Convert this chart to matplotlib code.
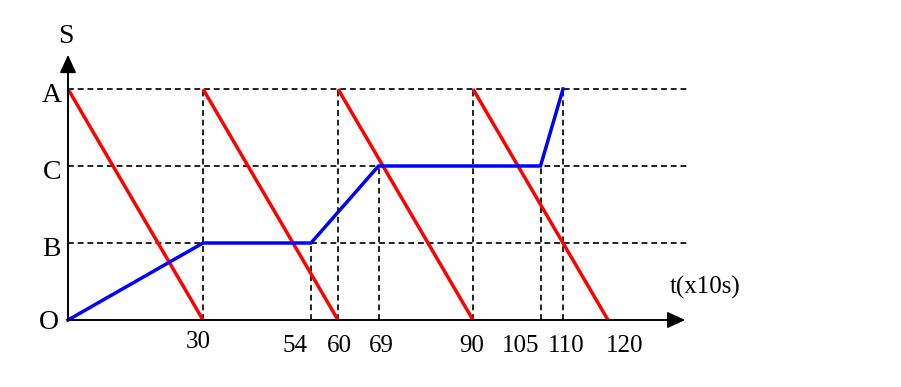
import matplotlib
matplotlib.use("Agg")
import matplotlib.pyplot as plt
from matplotlib.transforms import Bbox

# Data
levels = {"O": 0, "B": 1, "C": 2, "A": 3}
red_segments = [((0, 30), (3, 0)), ((30, 60), (3, 0)), ((60, 90), (3, 0)), ((90, 120), (3, 0))]
blue_t = [0, 30, 54, 69, 105, 110]
blue_s = [0, 1, 1, 2, 2, 3]
tick_values = [30, 54, 60, 69, 90, 105, 110, 120]
tick_labels = ["30", "54", "60", "69", "90", "105", "110", "120"]
# vertical dashed guides: (t, top level)
guides = [(30, 3), (54, 1), (60, 3), (69, 2), (90, 3), (105, 2), (110, 3)]

# layout
label_dx = {30: -1.1, 54: -3.6, 60: 0.4, 69: 0.7, 90: -0.2, 105: -4.4, 110: 0.7, 120: 3.8}
label_y = {30: -0.29}
x_end = 137.8
y_end = 3.48

plt.rcParams['font.family'] = ['Liberation Serif', 'DejaVu Serif']
fig = plt.figure(figsize=(9.01, 3.87), dpi=100)
ax = fig.add_axes([0, 0, 1, 1])
ax.set_xlim(-68 / 4.5, (901 - 68) / 4.5)
ax.set_ylim(-67 / 77, 320 / 77)
ax.axis("off")

dash = dict(color="#222222", lw=1.4, linestyle=(0, (3.0, 2.0)), zorder=1)
for name in ["B", "C", "A"]:
    ax.plot([0, x_end - 0.3], [levels[name]] * 2, **dash)
for t, top in guides:
    ax.plot([t, t], [0, top], **dash)

for xs, ys in red_segments:
    ax.plot(xs, ys, color="#ff0000", lw=2.5, zorder=3, solid_capstyle="butt")
ax.plot(blue_t, blue_s, color="#0000ff", lw=2.5, zorder=4, solid_joinstyle="miter")

# axes with arrows
ax.plot([0, x_end - 3], [0, 0], color="black", lw=1.4, zorder=5)
ax.plot([0, 0], [0, y_end - 0.2], color="black", lw=1.4, zorder=5)
ax.annotate("", xy=(x_end, 0), xytext=(x_end - 4, 0),
            arrowprops=dict(arrowstyle="-|>,head_length=1.1,head_width=0.5", color="black", lw=1.3), zorder=6)
ax.annotate("", xy=(0, y_end), xytext=(0, y_end - 0.25),
            arrowprops=dict(arrowstyle="-|>,head_length=1.1,head_width=0.5", color="black", lw=1.3), zorder=6)

fs_num = 18
fs_let = 20
clip = Bbox.from_extents(0, 387 - 352, 901, 387)
for v, lab in zip(tick_values, tick_labels):
    t = ax.text(v + label_dx[v], label_y.get(v, -0.335), lab, ha="center", va="center", fontsize=fs_num)
    t.set_clip_box(clip)
    t.set_clip_on(True)

for name in ["A", "C", "B"]:
    ax.text(-3.6, levels[name] - 0.08, name, ha="center", va="center", fontsize=fs_let)
ax.text(-4.3, -0.03, "O", ha="center", va="center", fontsize=fs_let)
ax.text(-0.4, 3.68, "S", ha="center", va="center", fontsize=fs_let)
ax.text(141.5, 0.42, "t(x10s)", ha="center", va="center", fontsize=fs_num)

fig.savefig("out.png", dpi=100)
